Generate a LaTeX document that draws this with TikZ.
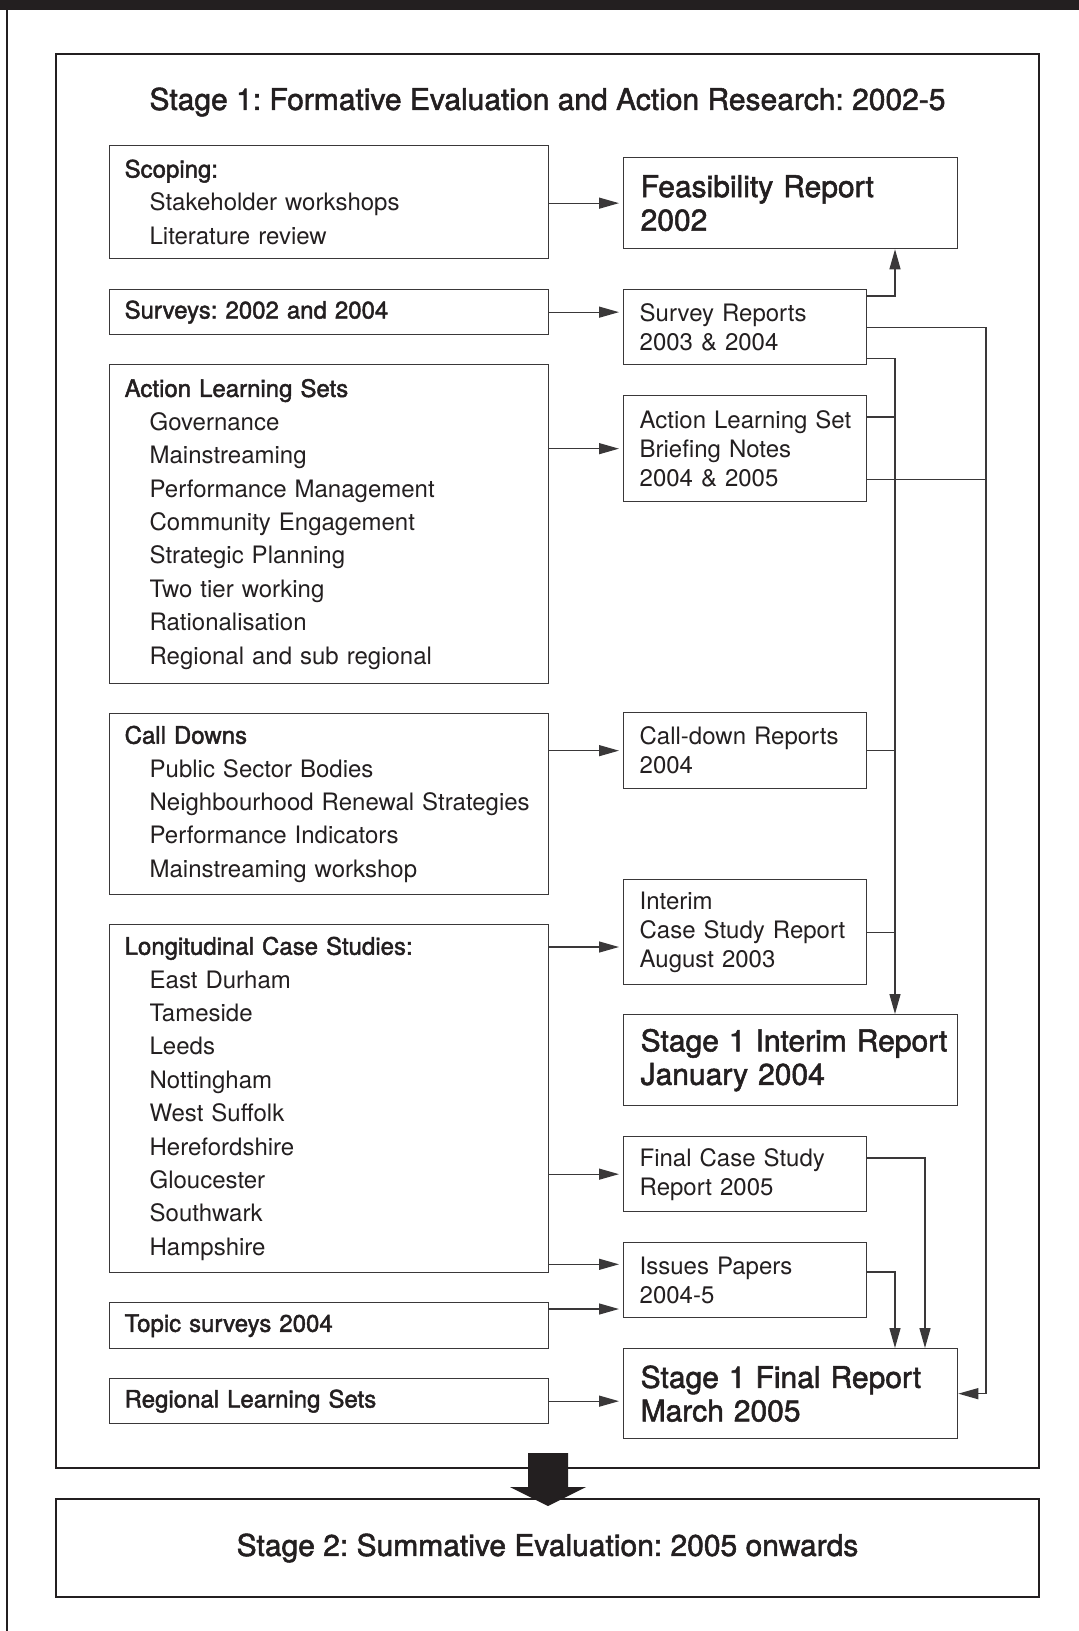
\documentclass[tikz,border=0pt]{standalone}
\usepackage{fontspec}
\setmainfont{TeX Gyre Heros}
\newfontfamily\semifont{TeX Gyre Heros}[FakeBold=1.8]
\usetikzlibrary{arrows.meta}
\definecolor{ink}{HTML}{231F20}
\definecolor{rule}{HTML}{3A3839}
\frenchspacing

% text sizes
\newcommand\leftfont{\fontsize{24}{33.4}\selectfont}
\newcommand\repfont{\fontsize{24}{29}\selectfont}
\newcommand\bigrepfont{\fontsize{30}{33.5}\selectfont\semifont}
\newcommand\stagefont{\fontsize{30}{36}\selectfont\semifont}
% line helpers
\newcommand\hdr[1]{\hspace*{15pt}{\semifont #1}}
\newcommand\itm[1]{\hspace*{40pt}#1}
\newcommand\rln[1]{\hspace*{16pt}#1}
\newcommand\bln[1]{\hspace*{17pt}#1}

\begin{document}
\begin{tikzpicture}[x=1pt,y=-1pt,
  rl/.style={draw=rule, line width=1.3pt},
  box/.style={rl, rectangle, anchor=north west, inner xsep=0pt, inner ysep=0pt,
    align=left, text=ink},
  lbox/.style={box, text width=439pt, minimum width=439pt, font=\leftfont},
  rbox/.style={box, text width=243pt, minimum width=243pt, font=\repfont},
  bbox/.style={box, text width=334pt, minimum width=334pt, font=\bigrepfont},
  arr/.style={rl, -{Triangle[length=20pt,width=11pt]}},
  harr/.style={arr, shorten >=4pt},
  link/.style={rl},
  frame/.style={draw=ink, line width=2pt}
]
\useasboundingbox (0,0) rectangle (1079,1631);

% page furniture
\fill[ink] (0,0) rectangle (1079,10);
\draw[ink, line width=1.5pt] (7,10) -- (7,1631);

% stage frames
\draw[frame] (56,54) rectangle (1039,1468);
\draw[frame] (56,1499) rectangle (1039,1597);
\node[font=\stagefont, text=ink] (t1) at (547.5,102) {Stage 1: Formative Evaluation and Action Research: 2002-5};
\node[font=\stagefont, text=ink] (t2) at (547.5,1548) {Stage 2: Summative Evaluation: 2005 onwards};

% activities
\node[lbox, minimum height=113pt] (scope) at (109,145)
  {\hdr{Scoping:}\\ \itm{Stakeholder workshops}\\ \itm{Literature review}};
\node[lbox, minimum height=45pt] (surv) at (109,289)
  {\hdr{Surveys: 2002 and 2004}};
\node[lbox, minimum height=319pt] (als) at (109,364)
  {\hdr{Action Learning Sets}\\ \itm{Governance}\\ \itm{Mainstreaming}\\
   \itm{Performance Management}\\ \itm{Community Engagement}\\
   \itm{Strategic Planning}\\ \itm{Two tier working}\\ \itm{Rationalisation}\\
   \itm{Regional and sub regional}};
\node[lbox, minimum height=181pt] (cd) at (109,713)
  {\hdr{Call Downs}\\ \itm{Public Sector Bodies}\\
   \itm{Neighbourhood Renewal Strategies}\\ \itm{Performance Indicators}\\
   \itm{Mainstreaming workshop}};
\node[lbox, minimum height=348pt] (long) at (109,924)
  {\hdr{Longitudinal Case Studies:}\\ \itm{East Durham}\\ \itm{Tameside}\\
   \itm{Leeds}\\ \itm{Nottingham}\\ \itm{West Suffolk}\\ \itm{Herefordshire}\\
   \itm{Gloucester}\\ \itm{Southwark}\\ \itm{Hampshire}};
\node[lbox, minimum height=46pt] (topic) at (109,1302) {\hdr{Topic surveys 2004}};
\node[lbox, minimum height=45pt] (rls) at (109,1378) {\hdr{Regional Learning Sets}};

% outputs
\node[bbox, minimum height=91pt] (feas) at (623,157)
  {\bln{Feasibility Report}\\ \bln{2002}};
\node[rbox, minimum height=75pt] (srep) at (623,289)
  {\rln{Survey Reports}\\ \rln{2003 \& 2004}};
\node[rbox, minimum height=106pt] (brief) at (623,395)
  {\rln{Action Learning Set}\\ \rln{Briefing Notes}\\ \rln{2004 \& 2005}};
\node[rbox, minimum height=76pt] (cdr) at (623,712)
  {\rln{Call-down Reports}\\ \rln{2004}};
\node[rbox, minimum height=105pt] (icr) at (623,879)
  {\rln{Interim}\\ \rln{Case Study Report}\\ \rln{August 2003}};
\node[bbox, minimum height=91pt] (s1int) at (623,1014)
  {\bln{Stage 1 Interim Report}\\ \bln{January 2004}};
\node[rbox, minimum height=75pt] (fcs) at (623,1136)
  {\rln{Final Case Study}\\ \rln{Report 2005}};
\node[rbox, minimum height=75pt] (iss) at (623,1242)
  {\rln{Issues Papers}\\ \rln{2004-5}};
\node[bbox, minimum height=90pt] (final) at (623,1348)
  {\bln{Stage 1 Final Report}\\ \bln{March 2005}};

% activity -> output arrows
\draw[harr] (scope.east |- feas.west) -- (feas.west);
\draw[harr] (surv.east) -- (surv.east -| srep.west);
\draw[harr] (als.east |- brief.west) -- (brief.west);
\draw[harr] (cd.east |- cdr.west) -- (cdr.west);
\coordinate (l1) at ([yshift=-23pt]long.north east);
\draw[harr] (l1) -- (l1 -| icr.west);
\draw[harr] (long.east |- fcs.west) -- (fcs.west);
\coordinate (l2) at ([yshift=9pt]long.south east);
\draw[harr] (l2) -- (l2 -| iss.west);
\coordinate (tp) at ([yshift=-7pt]topic.north east);
\draw[harr] (tp) -- (tp -| iss.west);
\draw[harr] (rls.east) -- (rls.east -| final.west);

% output -> report feeds
\coordinate (busA) at (895,0);
\coordinate (busB) at (986,0);
\coordinate (busC) at (925,0);
\coordinate (s1) at ([yshift=-7pt]srep.north east);
\draw[arr] (s1) -- (s1 -| busA) -- (busA |- feas.south);
\draw[arr] (srep.east) -- (srep.east -| busB) -- (busB |- final.east) -- (final.east);
\coordinate (s3) at ([yshift=7pt]srep.south east);
\draw[arr] (s3) -- (s3 -| busA) -- (busA |- s1int.north);
\coordinate (b1) at ([yshift=-22pt]brief.north east);
\draw[link] (b1) -- (b1 -| busA);
\coordinate (b2) at ([yshift=23pt]brief.south east);
\draw[link] (b2) -- (b2 -| busB);
\draw[link] (cdr.east) -- (cdr.east -| busA);
\draw[link] (icr.east) -- (icr.east -| busA);
\coordinate (f1) at ([yshift=-22pt]fcs.north east);
\draw[arr] (f1) -- (f1 -| busC) -- (busC |- final.north);
\coordinate (i1) at ([yshift=-30pt]iss.north east);
\draw[arr] (i1) -- (i1 -| busA) -- (busA |- final.north);

% stage 1 -> stage 2
\fill[ink] (528,1453) -- (568,1453) -- (568,1487) -- (586,1487) -- (548,1506)
  -- (510,1487) -- (528,1487) -- cycle;
\end{tikzpicture}
\end{document}
